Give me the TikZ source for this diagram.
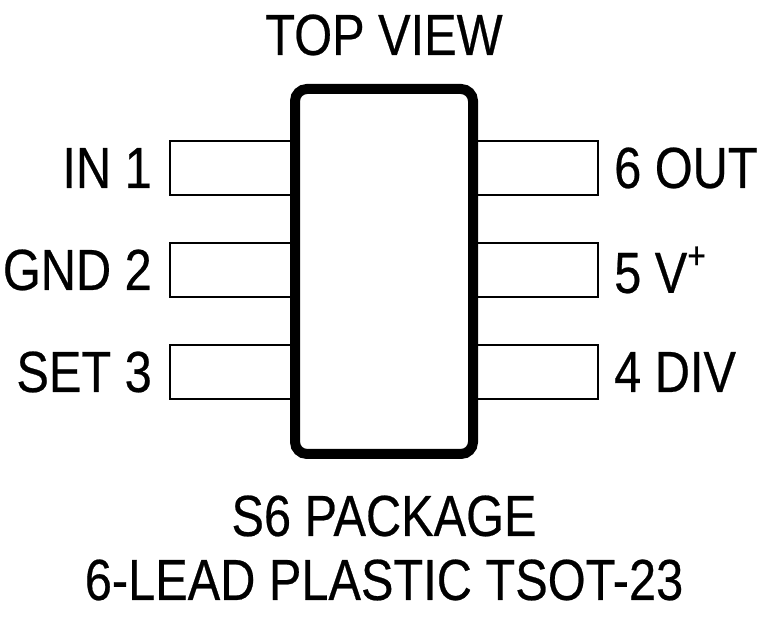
\documentclass[tikz,border=0pt]{standalone}
\usepackage{fontspec}
\setmainfont[FakeStretch=0.84,FakeBold=0.4]{Liberation Sans}
\begin{document}
\begin{tikzpicture}[x=1pt,y=1pt,
  pin/.style={draw,line width=2pt,fill=white},
  lbl/.style={font=\fontsize{58}{66}\selectfont,inner sep=0pt}]
\useasboundingbox (0,0) rectangle (760,621);
\foreach \i/\y in {1/168,2/270,3/372}{
  \draw[pin] (170,621-\y+27) rectangle (300,621-\y-27);
  \draw[pin] (468,621-\y+27) rectangle (598,621-\y-27);
}
\draw[line width=10pt,rounded corners=12pt,fill=white] (295,621-89) rectangle (473,621-454);
\node[lbl] (top) at (384,621-35) {TOP VIEW};
\node[lbl,anchor=east] (p1) at (152,621-168) {IN 1};
\node[lbl,anchor=east] (p2) at (152,621-270) {GND 2};
\node[lbl,anchor=east] (p3) at (152,621-372) {SET 3};
\node[lbl,anchor=west] (p6) at (614,621-168) {6 OUT};
\node[lbl,anchor=west] (p5) at (614,621-270) {5 V\raisebox{0.42em}{\fontsize{38}{40}\selectfont +}};
\node[lbl,anchor=west] (p4) at (614,621-372) {4 DIV};
\node[lbl] (b1) at (384,621-516) {S6 PACKAGE};
\node[lbl] (b2) at (384,621-580) {6-LEAD PLASTIC TSOT-23};
\end{tikzpicture}
\end{document}
